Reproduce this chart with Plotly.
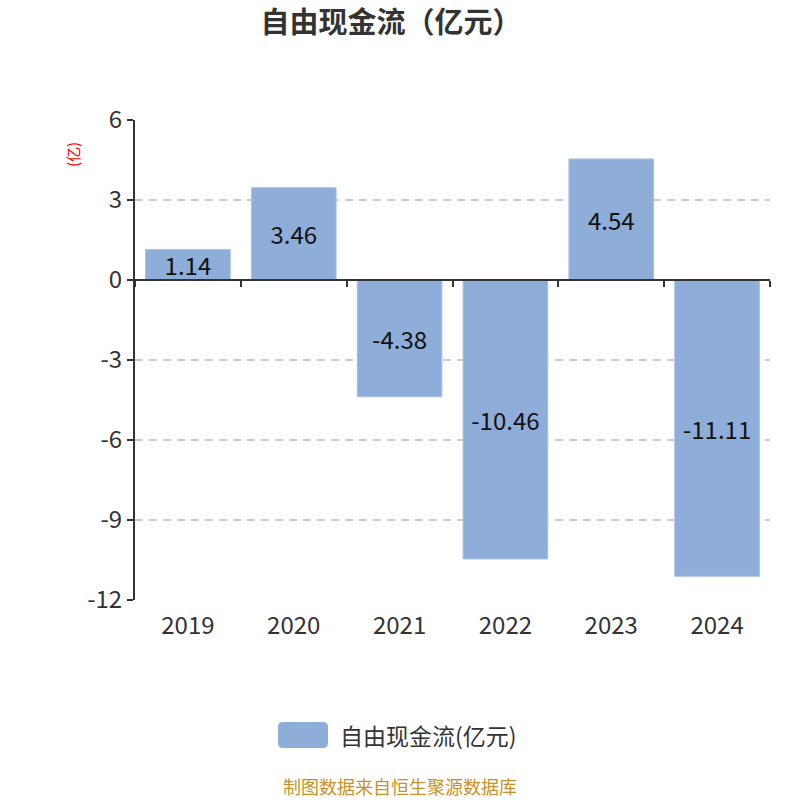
import plotly.graph_objects as go

years = ["2019", "2020", "2021", "2022", "2023", "2024"]
values = [1.14, 3.46, -4.38, -10.46, 4.54, -11.11]
labels = ["1.14", "3.46", "-4.38", "-10.46", "4.54", "-11.11"]
y_ticks = [6, 3, 0, -3, -6, -9, -12]
series_name = "自由现金流(亿元)"

FONT = "Noto Sans CJK SC"
BAR = "#8EADD9"

fig = go.Figure()
fig.add_trace(go.Bar(
    x=years, y=values, text=labels, name=series_name, showlegend=False,
    marker=dict(color=BAR, line=dict(color="#A9C1E4", width=1)),
    textposition="inside", insidetextanchor="middle", constraintext="none",
    textfont=dict(family=FONT, size=24, color="#111111"),
    width=0.8,
))

# invisible trace for the zero-line axis
fig.add_trace(go.Scatter(x=[-0.5, 5.5], y=[0, 0], xaxis="x2", mode="lines",
                         line=dict(width=0), hoverinfo="skip", showlegend=False))

plot_top, plot_bottom, plot_left, plot_right = 120, 600, 135, 770
H = 800
ph = plot_bottom - plot_top
pw = plot_right - plot_left
zero_pos = 12 / 18

def px_x(px):
    return (px - plot_left) / pw

def px_y(py):
    return (plot_bottom - py) / ph

fig.update_layout(
    width=800, height=800,
    margin=dict(l=plot_left, r=800 - plot_right, t=plot_top, b=H - plot_bottom),
    paper_bgcolor="white", plot_bgcolor="white",
    title=dict(text="<b>自由现金流（亿元）</b>", x=391 / 800, xanchor="center", y=1 - 23 / 800,
               yanchor="middle", font=dict(family=FONT, size=29, color="#333333")),
    font=dict(family=FONT, color="#333333"),
    showlegend=False,
    xaxis=dict(domain=[0, 1], showline=False, ticks="", showgrid=False, zeroline=False,
               tickfont=dict(family=FONT, size=24, color="#333333"), ticklabelstandoff=9),
    xaxis2=dict(overlaying="x", anchor="free", position=zero_pos, range=[-0.5, 5.5],
                showline=True, linecolor="#333333", linewidth=2, ticks="outside",
                tickcolor="#333333", tickwidth=2, ticklen=6, tickmode="linear", tick0=-0.5,
                dtick=1, showticklabels=False, showgrid=False, zeroline=False),
    yaxis=dict(domain=[0, 1], range=[-12, 6], tickvals=y_ticks, ticktext=[str(t) for t in y_ticks],
               showline=True, linecolor="#333333", linewidth=2, ticks="outside", ticklen=6,
               tickcolor="#333333", tickwidth=2,
               showgrid=True, gridcolor="#CCCCCC", griddash="8px,6px", gridwidth=1.5,
               zeroline=False, tickfont=dict(family=FONT, size=24, color="#333333")),
)

# legend: rounded swatch + label
sx0, sx1, sy0, sy1, r = px_x(278), px_x(328), px_y(748), px_y(722), 5
rx, ry = r / pw, r / ph
path = (f"M {sx0+rx},{sy0} L {sx1-rx},{sy0} Q {sx1},{sy0} {sx1},{sy0+ry} "
        f"L {sx1},{sy1-ry} Q {sx1},{sy1} {sx1-rx},{sy1} L {sx0+rx},{sy1} "
        f"Q {sx0},{sy1} {sx0},{sy1-ry} L {sx0},{sy0+ry} Q {sx0},{sy0} {sx0+rx},{sy0} Z")
fig.add_shape(type="path", path=path, xref="paper", yref="paper",
              fillcolor=BAR, line=dict(width=0), layer="above")
fig.add_annotation(text=series_name, xref="paper", yref="paper", x=px_x(338), y=px_y(735),
                   showarrow=False, font=dict(family=FONT, size=23, color="#333333"),
                   xanchor="left", yanchor="middle")

fig.add_annotation(text="(亿)", xref="paper", yref="paper", x=px_x(72), y=px_y(155), textangle=-90,
                   showarrow=False, font=dict(family=FONT, size=15, color="#FF0000"),
                   xanchor="center", yanchor="middle")
fig.add_annotation(text="制图数据来自恒生聚源数据库", xref="paper", yref="paper", x=px_x(400),
                   y=px_y(786), showarrow=False, font=dict(family=FONT, size=18, color="#C8922A"),
                   xanchor="center", yanchor="middle")

fig.write_html("out.html", post_script="document.body.style.margin='0px';",
               config={"displayModeBar": False})
